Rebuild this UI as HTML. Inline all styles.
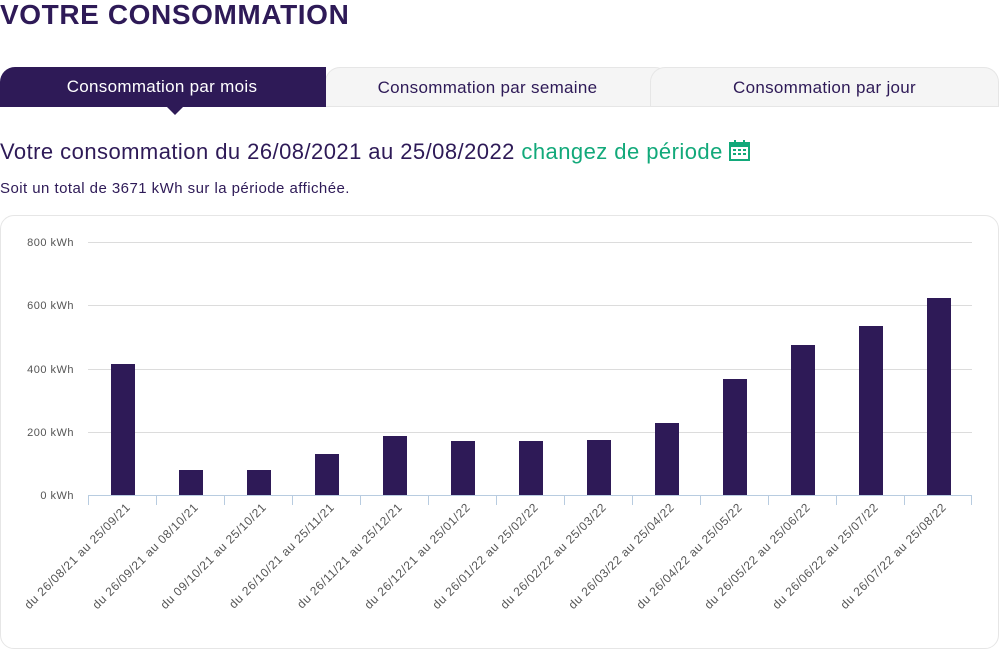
<!DOCTYPE html>
<html><head><meta charset="utf-8"><style>
body{margin:0;width:1000px;height:660px;background:#fff;font-family:"Liberation Sans",sans-serif;position:relative;overflow:hidden;color:#2e1a57}
.a{position:absolute}
.tab{position:absolute;top:67px;height:40px;border-radius:15px 15px 0 0;display:flex;align-items:center;justify-content:center;font-size:17px;letter-spacing:0.3px;box-sizing:border-box}
</style></head><body>
<div class="a" style="left:0;top:0;font-size:28px;font-weight:bold;letter-spacing:0.6px;line-height:30px">VOTRE CONSOMMATION</div>
<div class="tab" style="left:325px;width:345px;background:#f5f5f5;border:1px solid #e6e6e6;border-bottom:none;color:#2e1a57;padding-right:20px">Consommation par semaine</div>
<div class="tab" style="left:650px;width:349px;background:#f5f5f5;border:1px solid #e6e6e6;border-bottom:none;color:#2e1a57">Consommation par jour</div>
<div class="tab" style="left:0;width:326px;background:#2e1a57;color:#fff;border-radius:15px 0 0 0;padding-right:2px">Consommation par mois</div>
<div class="a" style="left:0;top:106px;width:999px;height:1px;background:#e6e6e6"></div>
<div class="a" style="left:0;top:106px;width:326px;height:1px;background:#2e1a57"></div>
<div class="a" style="left:167px;top:107px;width:0;height:0;border-left:8px solid transparent;border-right:8px solid transparent;border-top:8px solid #2e1a57"></div>
<div class="a" style="left:0;top:139px;font-size:22px;letter-spacing:0.45px;line-height:26px;color:#2e1a57;white-space:nowrap">Votre consommation du 26/08/2021 au 25/08/2022 <span style="color:#12a97a">changez de période</span></div>
<svg class="a" style="left:729px;top:140px" width="22" height="22" viewBox="0 0 22 22"><rect x="1" y="3" width="19" height="17" fill="none" stroke="#12a97a" stroke-width="2"/><rect x="1" y="3" width="19" height="4" fill="#12a97a"/><rect x="5" y="0" width="2" height="5" fill="#12a97a"/><rect x="14" y="0" width="2" height="5" fill="#12a97a"/><g fill="#12a97a"><rect x="4" y="9" width="3" height="2"/><rect x="9" y="9" width="3" height="2"/><rect x="14" y="9" width="3" height="2"/><rect x="4" y="13" width="3" height="2"/><rect x="9" y="13" width="3" height="2"/><rect x="14" y="13" width="3" height="2"/></g></svg>
<div class="a" style="left:0;top:180px;font-size:15px;letter-spacing:0.45px;color:#2e1a57;white-space:nowrap">Soit un total de 3671 kWh sur la période affichée.</div>
<div class="a" style="left:0;top:215px;width:997px;height:432px;border:1px solid #e6e6e6;border-radius:14px"></div>
<svg class="a" style="left:0;top:0" width="1000" height="660" font-family="Liberation Sans, sans-serif">
<g stroke="#dcdcdc" stroke-width="1">
<line x1="88" x2="972" y1="242.5" y2="242.5"/><line x1="88" x2="972" y1="305.5" y2="305.5"/><line x1="88" x2="972" y1="369.5" y2="369.5"/><line x1="88" x2="972" y1="432.5" y2="432.5"/>
</g>
<g font-size="11" fill="#555" text-anchor="end" letter-spacing="0.5">
<text x="74" y="246">800 kWh</text><text x="74" y="309">600 kWh</text><text x="74" y="373">400 kWh</text><text x="74" y="436">200 kWh</text><text x="74" y="499">0 kWh</text>
</g>
<g fill="#2e1a57">
<rect x="111" y="364" width="24" height="131"/>
<rect x="179" y="470" width="24" height="25"/>
<rect x="247" y="470" width="24" height="25"/>
<rect x="315" y="454" width="24" height="41"/>
<rect x="383" y="436" width="24" height="59"/>
<rect x="451" y="441" width="24" height="54"/>
<rect x="519" y="441" width="24" height="54"/>
<rect x="587" y="440" width="24" height="55"/>
<rect x="655" y="423" width="24" height="72"/>
<rect x="723" y="379" width="24" height="116"/>
<rect x="791" y="345" width="24" height="150"/>
<rect x="859" y="326" width="24" height="169"/>
<rect x="927" y="298" width="24" height="197"/>
</g>
<g stroke="#b8cce0" stroke-width="1">
<line x1="88" x2="972" y1="495.5" y2="495.5"/>
<line x1="88.5" x2="88.5" y1="495" y2="505"/><line x1="156.5" x2="156.5" y1="495" y2="505"/><line x1="224.5" x2="224.5" y1="495" y2="505"/><line x1="292.5" x2="292.5" y1="495" y2="505"/><line x1="360.5" x2="360.5" y1="495" y2="505"/><line x1="428.5" x2="428.5" y1="495" y2="505"/><line x1="496.5" x2="496.5" y1="495" y2="505"/><line x1="564.5" x2="564.5" y1="495" y2="505"/><line x1="632.5" x2="632.5" y1="495" y2="505"/><line x1="700.5" x2="700.5" y1="495" y2="505"/><line x1="768.5" x2="768.5" y1="495" y2="505"/><line x1="836.5" x2="836.5" y1="495" y2="505"/><line x1="904.5" x2="904.5" y1="495" y2="505"/><line x1="971.5" x2="971.5" y1="495" y2="505"/>
</g>
<g font-size="12" fill="#555" text-anchor="end" letter-spacing="0.6">
<text transform="translate(131,508) rotate(-45)">du 26/08/21 au 25/09/21</text>
<text transform="translate(199,508) rotate(-45)">du 26/09/21 au 08/10/21</text>
<text transform="translate(267,508) rotate(-45)">du 09/10/21 au 25/10/21</text>
<text transform="translate(335,508) rotate(-45)">du 26/10/21 au 25/11/21</text>
<text transform="translate(403,508) rotate(-45)">du 26/11/21 au 25/12/21</text>
<text transform="translate(471,508) rotate(-45)">du 26/12/21 au 25/01/22</text>
<text transform="translate(539,508) rotate(-45)">du 26/01/22 au 25/02/22</text>
<text transform="translate(607,508) rotate(-45)">du 26/02/22 au 25/03/22</text>
<text transform="translate(675,508) rotate(-45)">du 26/03/22 au 25/04/22</text>
<text transform="translate(743,508) rotate(-45)">du 26/04/22 au 25/05/22</text>
<text transform="translate(811,508) rotate(-45)">du 26/05/22 au 25/06/22</text>
<text transform="translate(879,508) rotate(-45)">du 26/06/22 au 25/07/22</text>
<text transform="translate(947,508) rotate(-45)">du 26/07/22 au 25/08/22</text>
</g>
</svg>
</body></html>
